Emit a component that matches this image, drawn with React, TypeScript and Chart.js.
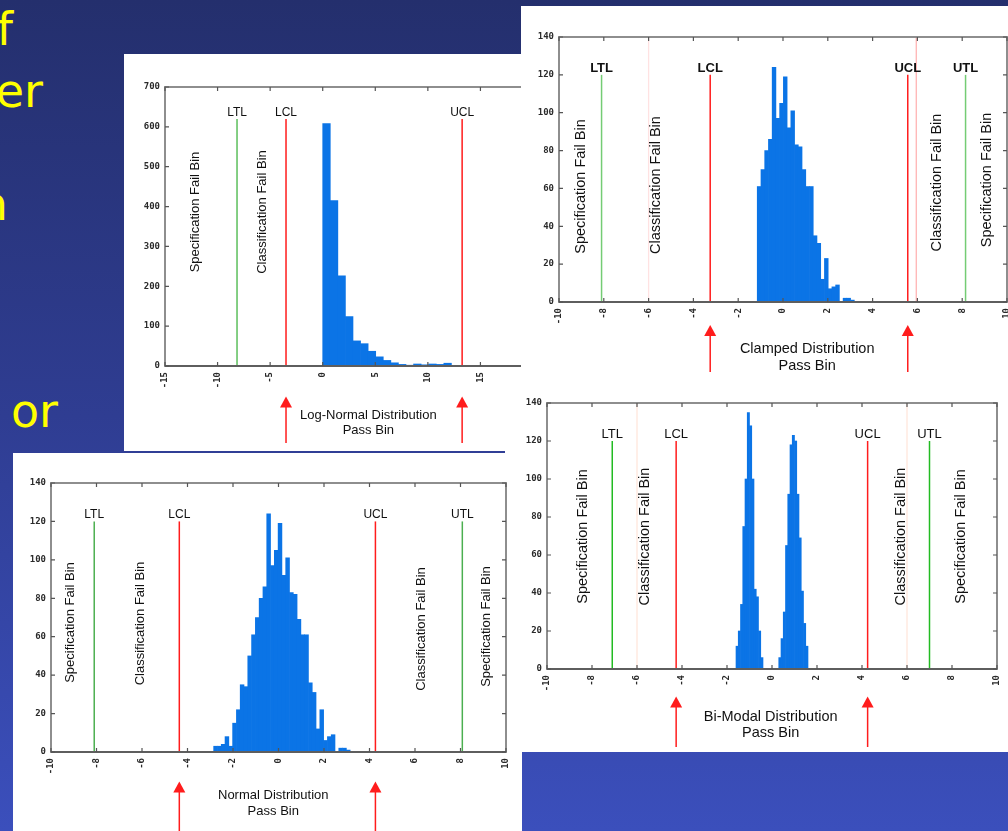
import React, { useEffect, useRef } from "react";
import { Chart, registerables } from "chart.js";

Chart.register(...registerables);

// ---------------- data ----------------
const logNormalBinStart = 0;
const logNormalBinWidth = 0.72;
const logNormalCounts = [608, 415, 226, 124, 63, 56, 37, 23, 14, 8, 4, 2, 5, 3, 5, 4, 7];

const clampedBinStart = -1.15;
const clampedBinWidth = 1 / 6;
const clampedCounts = [61, 70, 80, 86, 124, 97, 105, 119, 92, 101, 83, 82, 70, 61, 61, 35, 31, 12, 23, 7, 8, 9, 0, 2, 2, 1];

const bimodalBinStart = -1.6;
const bimodalBinWidth = 0.1;
const bimodalCounts = [12, 20, 34, 75, 100, 135, 128, 100, 42, 38, 20, 6, 0, 0, 0, 0, 0, 0, 0, 6, 16, 30, 65, 92, 118, 123, 120, 92, 69, 41, 24, 12];

const normalBinStart = -2.85;
const normalBinWidth = 1 / 6;
const normalCounts = [3, 3, 4, 8, 3, 15, 22, 35, 34, 50, 61, 70, 80, 86, 124, 97, 105, 119, 92, 101, 83, 82, 69, 61, 61, 36, 31, 12, 22, 6, 8, 9, 0, 2, 2, 1];

const limitNames = ["LTL", "LCL", "UCL", "UTL"];
const logNormalLimits = [-8.15, -3.49, 13.26, null];
const clampedLimits = [-8.1, -3.25, 5.57, 8.15];
const bimodalLimits = [-7.1, -4.26, 4.25, 7.0];
const normalLimits = [-8.1, -4.36, 4.26, 8.08];

const failBinNames = ["Specification Fail Bin", "Classification Fail Bin", "Classification Fail Bin", "Specification Fail Bin"];
const logNormalFailX = [-12.1, -5.74];
const clampedFailX = [-9.0, -5.67, 6.86, 9.09];
const bimodalFailX = [-8.42, -5.64, 5.73, 8.38];
const normalFailX = [-9.16, -6.09, 6.3, 9.12];

const distributionNames = ["Log-Normal Distribution", "Clamped Distribution", "Bi-Modal Distribution", "Normal Distribution"];
const passBinName = "Pass Bin";

const slideFragments = ["f", "er", "n", "or"];

// ---------------- panel configuration ----------------
type PanelCfg = {
  key: string;
  left: number; top: number; width: number; height: number; z: number;
  area: { l: number; t: number; r: number; b: number };
  xMin: number; xMax: number; xStep: number; yMax: number; yStep: number;
  binStart: number; binWidth: number; counts: number[];
  limits: (number | null)[]; lineTop: number; green: string;
  faint: { v: number; color: string }[];
  failX: number[]; failY: number[];
  title: string; titleX: number; titleY: number; titleGap: number;
  arrowTip: number; arrowEnd: number;
  limitFont: number; textFont: number; limitWeight: string;
};

const panels: PanelCfg[] = [
  {
    key: "log", left: 124, top: 54, width: 420, height: 397, z: 1,
    area: { l: 41, t: 33, r: 409, b: 312 },
    xMin: -15, xMax: 20, xStep: 5, yMax: 700, yStep: 100,
    binStart: logNormalBinStart, binWidth: logNormalBinWidth, counts: logNormalCounts,
    limits: logNormalLimits, lineTop: 620, green: "#5cbf5c",
    faint: [],
    failX: logNormalFailX, failY: [158, 158],
    title: distributionNames[0], titleX: 4.34, titleY: 361, titleGap: 15,
    arrowTip: 342.5, arrowEnd: 389,
    limitFont: 12, textFont: 13, limitWeight: "normal",
  },
  {
    key: "clamped", left: 521, top: 6, width: 487, height: 372, z: 2,
    area: { l: 38, t: 31, r: 486, b: 296 },
    xMin: -10, xMax: 10, xStep: 2, yMax: 140, yStep: 20,
    binStart: clampedBinStart, binWidth: clampedBinWidth, counts: clampedCounts,
    limits: clampedLimits, lineTop: 120, green: "#74cc74",
    faint: [{ v: -6, color: "#ffe2e2" }, { v: 5.95, color: "#ffb4b4" }],
    failX: clampedFailX, failY: [180.5, 179, 176.5, 174],
    title: distributionNames[1], titleX: 1.08, titleY: 342.5, titleGap: 17.5,
    arrowTip: 319, arrowEnd: 366,
    limitFont: 13, textFont: 14.5, limitWeight: "bold",
  },
  {
    key: "bimodal", left: 521, top: 378, width: 487, height: 374, z: 2,
    area: { l: 26, t: 25, r: 476, b: 291 },
    xMin: -10, xMax: 10, xStep: 2, yMax: 140, yStep: 20,
    binStart: bimodalBinStart, binWidth: bimodalBinWidth, counts: bimodalCounts,
    limits: bimodalLimits, lineTop: 120, green: "#22bb22",
    faint: [{ v: -6, color: "#ffe6dc" }, { v: 6, color: "#ffe6dc" }],
    failX: bimodalFailX, failY: [158.5, 158.5, 158.5, 158.5],
    title: distributionNames[2], titleX: -0.06, titleY: 338.7, titleGap: 16.6,
    arrowTip: 318.5, arrowEnd: 369,
    limitFont: 13, textFont: 14.5, limitWeight: "normal",
  },
  {
    key: "normal", left: 13, top: 453, width: 509, height: 378, z: 3,
    area: { l: 38, t: 30, r: 493, b: 299 },
    xMin: -10, xMax: 10, xStep: 2, yMax: 140, yStep: 20,
    binStart: normalBinStart, binWidth: normalBinWidth, counts: normalCounts,
    limits: normalLimits, lineTop: 120, green: "#4caf50",
    faint: [],
    failX: normalFailX, failY: [169.5, 170.5, 176, 173.5],
    title: distributionNames[3], titleX: -0.23, titleY: 342.7, titleGap: 16,
    arrowTip: 328.5, arrowEnd: 378,
    limitFont: 12, textFont: 13, limitWeight: "normal",
  },
];

const RED = "#ff1c1c";
const BLUE = "#0b74e6";
const SANS = '"Liberation Sans", Arial, sans-serif';

function makeDecor(p: PanelCfg) {
  return {
    id: "decor_" + p.key,
    beforeDatasetsDraw(chart: any) {
      const { ctx, chartArea: a, scales } = chart;
      const x = scales.x;
      ctx.save();
      p.faint.forEach((f) => {
        const px = x.getPixelForValue(f.v);
        ctx.strokeStyle = f.color;
        ctx.lineWidth = 1.3;
        ctx.beginPath();
        ctx.moveTo(px, a.top);
        ctx.lineTo(px, a.bottom);
        ctx.stroke();
      });
      ctx.restore();
    },
    afterDraw(chart: any) {
      const { ctx, chartArea: a, scales } = chart;
      const x = scales.x;
      const y = scales.y;
      ctx.save();
      // frame
      ctx.strokeStyle = "#8e8e8e";
      ctx.lineWidth = 2;
      ctx.strokeRect(a.left, a.top, a.right - a.left, a.bottom - a.top);
      ctx.strokeStyle = "#5e5e5e";
      ctx.beginPath();
      ctx.moveTo(a.left, a.bottom);
      ctx.lineTo(a.right, a.bottom);
      ctx.stroke();
      // inward tick marks on all sides
      ctx.strokeStyle = "#555";
      ctx.lineWidth = 1.2;
      x.ticks.forEach((t: any) => {
        const px = x.getPixelForValue(t.value);
        ctx.beginPath();
        ctx.moveTo(px, a.bottom);
        ctx.lineTo(px, a.bottom - 4);
        ctx.moveTo(px, a.top);
        ctx.lineTo(px, a.top + 4);
        ctx.stroke();
      });
      y.ticks.forEach((t: any) => {
        const py = y.getPixelForValue(t.value);
        ctx.beginPath();
        ctx.moveTo(a.left, py);
        ctx.lineTo(a.left + 4, py);
        ctx.moveTo(a.right, py);
        ctx.lineTo(a.right - 4, py);
        ctx.stroke();
      });
      // limit labels
      ctx.fillStyle = "#111";
      ctx.font = `${p.limitWeight} ${p.limitFont}px ${SANS}`;
      ctx.textAlign = "center";
      ctx.textBaseline = "alphabetic";
      const topPx = y.getPixelForValue(p.lineTop);
      p.limits.forEach((v, i) => {
        if (v === null) return;
        ctx.fillText(limitNames[i], x.getPixelForValue(v), topPx - 3);
      });
      // rotated fail-bin labels
      ctx.font = `${p.textFont}px ${SANS}`;
      ctx.textBaseline = "middle";
      p.failX.forEach((v, i) => {
        ctx.save();
        ctx.translate(x.getPixelForValue(v), p.failY[i]);
        ctx.rotate(-Math.PI / 2);
        ctx.fillText(failBinNames[i], 0, 0);
        ctx.restore();
      });
      // arrows at LCL / UCL
      [p.limits[1], p.limits[2]].forEach((v) => {
        if (v === null) return;
        const px = x.getPixelForValue(v);
        ctx.fillStyle = RED;
        ctx.beginPath();
        ctx.moveTo(px, p.arrowTip);
        ctx.lineTo(px - 6, p.arrowTip + 11);
        ctx.lineTo(px + 6, p.arrowTip + 11);
        ctx.closePath();
        ctx.fill();
        ctx.strokeStyle = RED;
        ctx.lineWidth = 1.5;
        ctx.beginPath();
        ctx.moveTo(px, p.arrowTip + 10);
        ctx.lineTo(px, p.arrowEnd);
        ctx.stroke();
      });
      // title
      ctx.fillStyle = "#111";
      ctx.font = `${p.textFont}px ${SANS}`;
      ctx.textAlign = "center";
      ctx.textBaseline = "middle";
      const tx = x.getPixelForValue(p.titleX);
      ctx.fillText(p.title, tx, p.titleY);
      ctx.fillText(passBinName, tx, p.titleY + p.titleGap);
      ctx.restore();
    },
  };
}

function HistPanel({ p }: { p: PanelCfg }) {
  const ref = useRef<HTMLCanvasElement>(null);
  useEffect(() => {
    const bars = p.counts
      .map((c, i) => ({ x: p.binStart + (i + 0.5) * p.binWidth, y: c }))
      .filter((d) => d.y > 0);
    const lineSets: any[] = [];
    p.limits.forEach((v, i) => {
      if (v === null) return;
      lineSets.push({
        type: "line",
        label: limitNames[i],
        data: [{ x: v, y: 0 }, { x: v, y: p.lineTop }],
        borderColor: i === 0 || i === 3 ? p.green : RED,
        borderWidth: 1.5,
        pointRadius: 0,
        fill: false,
      });
    });
    const tickFont = { family: '"DejaVu Sans Mono", monospace', weight: "bold" as const, size: 9 };
    const chart = new Chart(ref.current as HTMLCanvasElement, {
      type: "bar",
      data: {
        datasets: [
          {
            type: "bar",
            label: "count",
            data: bars as any,
            backgroundColor: BLUE,
            borderWidth: 0,
            barPercentage: 1,
            categoryPercentage: 1,
            grouped: false,
          } as any,
          ...lineSets,
        ],
      },
      options: {
        animation: false,
        responsive: false,
        events: [],
        layout: { padding: { left: 0, top: p.area.t, right: p.width - p.area.r, bottom: 0 } },
        plugins: { legend: { display: false }, tooltip: { enabled: false } },
        scales: {
          x: {
            type: "linear",
            min: p.xMin,
            max: p.xMax,
            offset: false,
            grid: { display: false, drawTicks: false, offset: false },
            border: { display: false },
            ticks: {
              stepSize: p.xStep,
              autoSkip: false,
              minRotation: 90,
              maxRotation: 90,
              padding: 6,
              color: "#2a2a2a",
              font: tickFont,
            },
            afterFit: (s: any) => {
              s.height = p.height - p.area.b;
              s.paddingLeft = 0;
              s.paddingRight = 0;
            },
          },
          y: {
            type: "linear",
            min: 0,
            max: p.yMax,
            grid: { display: false, drawTicks: false },
            border: { display: false },
            ticks: { stepSize: p.yStep, padding: 5, color: "#2a2a2a", font: tickFont },
            afterFit: (s: any) => {
              s.width = p.area.l;
              s.paddingTop = 0;
              s.paddingBottom = 0;
            },
          },
        },
      } as any,
      plugins: [makeDecor(p)],
    });
    return () => chart.destroy();
  }, []);
  return (
    <div
      style={{
        position: "absolute",
        left: p.left,
        top: p.top,
        width: p.width,
        height: p.height,
        background: "#ffffff",
        zIndex: p.z,
      }}
    >
      <canvas ref={ref} width={p.width} height={p.height} style={{ display: "block", width: p.width, height: p.height }} />
    </div>
  );
}

const fragmentPlaces = [
  { right: 13, top: 6 },
  { right: 43, top: 68 },
  { right: 8, top: 181 },
  { right: 58, top: 388 },
];

export default function App() {
  return (
    <div
      style={{
        position: "fixed",
        left: 0,
        top: 0,
        width: 1008,
        height: 831,
        overflow: "hidden",
        background: "linear-gradient(180deg, #242f6d 0%, #2f3d92 50%, #3b4fbc 100%)",
      }}
    >
      {slideFragments.map((t, i) => (
        <div
          key={i}
          style={{
            position: "absolute",
            right: 1008 - fragmentPlaces[i].right,
            top: fragmentPlaces[i].top,
            color: "#ffff00",
            fontFamily: '"DejaVu Sans", sans-serif',
            fontSize: 46,
            lineHeight: "46px",
            whiteSpace: "nowrap",
            zIndex: 0,
          }}
        >
          {t}
        </div>
      ))}
      <div style={{ position: "absolute", left: 505, top: 445, width: 17, height: 12, background: "#fff", zIndex: 1 }} />
      {panels.map((p) => (
        <HistPanel key={p.key} p={p} />
      ))}
    </div>
  );
}
